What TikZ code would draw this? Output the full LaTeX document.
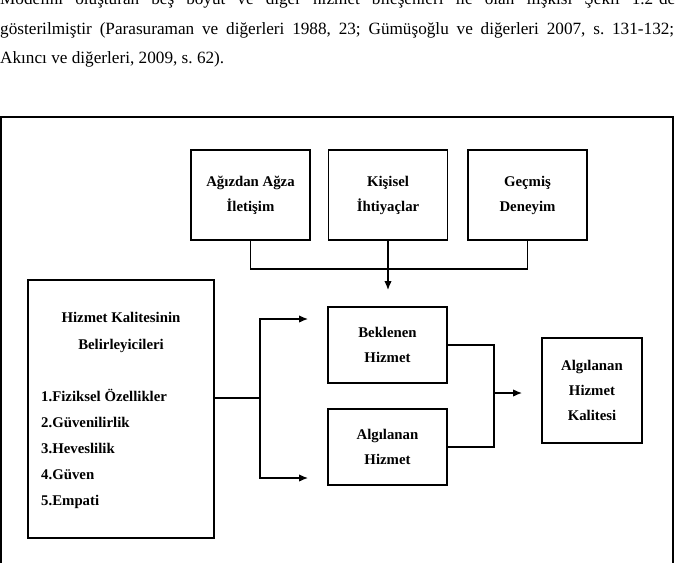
\documentclass[tikz,border=0pt]{standalone}
\usepackage{fontspec}
\setmainfont{Liberation Serif}
\usetikzlibrary{arrows.meta}
\frenchspacing

\begin{document}
\begin{tikzpicture}[x=1pt, y=-1pt, >={Latex[length=9pt,width=7.5pt]},
  kutu/.style={draw, line width=1.3pt, minimum width=119pt, align=center,
    inner sep=0pt, font=\fontsize{14.8}{25}\selectfont\bfseries},
  madde/.style={inner sep=0pt, anchor=base west, font=\fontsize{14.8}{18}\selectfont\bfseries},
  yazi/.style={inner sep=0pt, anchor=base west, font=\fontsize{17.2}{20}\selectfont},
  hat/.style={line width=1.3pt}]
  \clip (0,0) rectangle (677,562);
  % paragraph above the figure
  \node[yazi] (p1) at (0,5) {\makebox[675pt][s]{Modelini oluşturan beş boyut ve diğer hizmet bileşenleri ile olan ilişkisi Şekil 1.2'de}};
  \node[yazi] (p2) at (0,34) {\makebox[674pt][s]{gösterilmiştir (Parasuraman ve diğerleri 1988, 23; Gümüşoğlu ve diğerleri 2007, s. 131-132;}};
  \node[yazi] (p3) at (0,63) {Akıncı ve diğerleri, 2009, s. 62).};
  % frame
  \draw[line width=1.8pt] (1,600) |- (673,117) -- (673,600);
  % boxes
  \node[kutu, minimum height=90pt] (agiz) at (250.5,195) {Ağızdan Ağza\\İletişim};
  \node[kutu, minimum height=90pt] (kisi) at (388,195) {Kişisel\\İhtiyaçlar};
  \node[kutu, minimum height=90pt] (gecm) at (527.5,195) {Geçmiş\\Deneyim};
  \node[kutu, minimum height=76pt] (bekl) at (387.5,345) {Beklenen\\Hizmet};
  \node[kutu, minimum height=76pt] (algi) at (387.5,447) {Algılanan\\Hizmet};
  \node[kutu, minimum width=100pt, minimum height=105pt] (kali) at (592,390.5) {Algılanan\\Hizmet\\Kalitesi};
  \node[kutu, minimum width=186pt, minimum height=258pt] (beli) at (121,409) {};
  \node[kutu, draw=none, font=\fontsize{14.8}{27}\selectfont\bfseries] (bbas) at (121,332) {Hizmet Kalitesinin\\Belirleyicileri};
  \foreach \t [count=\i] in {1.Fiziksel Özellikler, 2.Güvenilirlik, 3.Heveslilik, 4.Güven, 5.Empati}
    \node[madde] (m\i) at (41,376+25.8*\i) {\t};
  % connectors
  \coordinate (bus) at (0,269);
  \coordinate (ok1) at (388,290);
  \draw[hat] (agiz.south) -- (agiz.south |- bus) -- (gecm.south |- bus) -- (gecm.south);
  \draw[hat,->] (kisi.south) -- (ok1);
  \coordinate (dal) at (260,398);
  \coordinate (uc1) at (308,319); \coordinate (uc2) at (308,478);
  \draw[hat] (beli.east |- dal) -- (dal);
  \draw[hat,<->] (uc1) -| (dal |- uc2) -- (uc2);
  \coordinate (bir) at (494,393); \coordinate (uc3) at (522,393);
  \draw[hat] (bekl.east) -| (bir) |- (algi.east);
  \draw[hat,->] (bir) -- (uc3);
\end{tikzpicture}
\end{document}
